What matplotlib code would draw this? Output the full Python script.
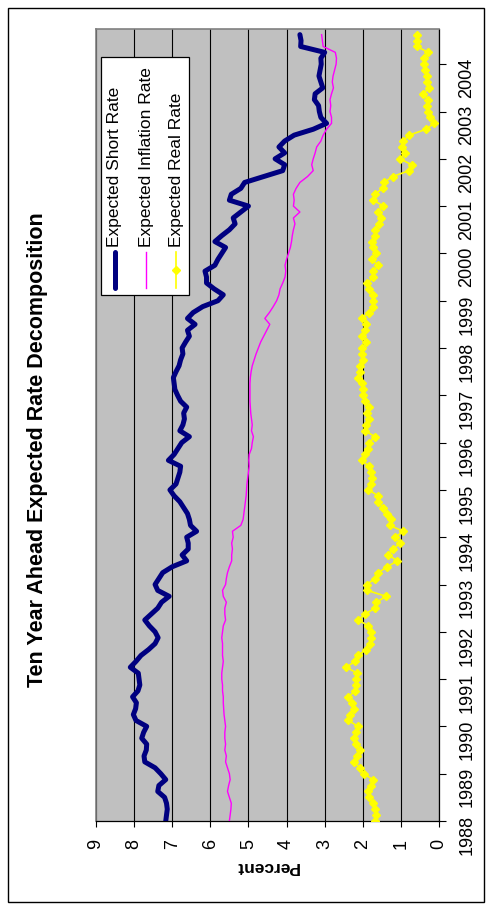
import numpy as np
import matplotlib
matplotlib.use("Agg")
import matplotlib.pyplot as plt
from matplotlib.lines import Line2D
from matplotlib.patches import Rectangle

plt.rcParams['font.family'] = ['Liberation Sans', 'DejaVu Sans']

# figure size in pixels, used to place things by pixel
W, H = 491, 909

START_YEAR = 1988
OBS_PER_YEAR = 8

year_ticks = list(range(1988, 2005))
percent_ticks = list(range(0, 10))

series_names = ["Expected Short Rate", "Expected Inflation Rate", "Expected Real Rate"]

short_rate = [
    7.17, 7.15, 7.13, 7.15, 7.20, 7.38, 7.35, 7.17,
    7.30, 7.45, 7.72, 7.74, 7.68, 7.67, 7.80, 7.75,
    7.67, 7.95, 8.02, 7.96, 7.94, 8.04, 7.90, 7.85,
    7.87, 7.89, 8.10, 7.95, 7.82, 7.62, 7.45, 7.37,
    7.45, 7.60, 7.72, 7.55, 7.38, 7.28, 7.08, 7.38,
    7.45, 7.35, 7.25, 7.00, 6.62, 6.74, 6.58, 6.58,
    6.62, 6.36, 6.52, 6.55, 6.60, 6.70, 6.80, 6.95,
    7.06, 6.90, 6.85, 6.80, 6.78, 7.10, 6.95, 6.85,
    6.75, 6.55, 6.80, 6.72, 6.68, 6.70, 6.62, 6.78,
    6.86, 6.93, 6.95, 6.97, 6.90, 6.82, 6.78, 6.72,
    6.74, 6.65, 6.55, 6.60, 6.40, 6.60, 6.45, 6.20,
    5.80, 5.66, 5.90, 6.10, 6.10, 6.14, 5.88, 5.80,
    5.70, 5.60, 5.88, 5.70, 5.50, 5.35, 5.40, 5.20,
    5.00, 5.50, 5.45, 5.20, 5.10, 4.60, 4.10, 4.05,
    4.30, 4.05, 4.20, 4.05, 3.80, 3.30, 2.95, 3.10,
    3.14, 3.16, 3.27, 3.25, 3.05, 3.10, 3.15, 3.12,
    3.09, 3.10, 3.00, 3.63, 3.62, 3.65,
]

inflation_rate = [
    5.50, 5.48, 5.46, 5.45, 5.50, 5.55, 5.52, 5.48,
    5.50, 5.55, 5.60, 5.58, 5.62, 5.60, 5.62, 5.62,
    5.60, 5.62, 5.64, 5.65, 5.66, 5.66, 5.68, 5.68,
    5.70, 5.70, 5.68, 5.66, 5.68, 5.68, 5.68, 5.70,
    5.68, 5.66, 5.60, 5.62, 5.62, 5.58, 5.66, 5.68,
    5.60, 5.58, 5.55, 5.50, 5.44, 5.44, 5.42, 5.44,
    5.40, 5.42, 5.20, 5.14, 5.12, 5.10, 5.08, 5.06,
    5.05, 5.04, 5.02, 5.00, 4.98, 4.99, 4.98, 4.92,
    4.90, 4.87, 4.92, 4.90, 4.92, 4.94, 4.95, 4.96,
    4.96, 4.96, 4.96, 4.95, 4.93, 4.90, 4.85, 4.80,
    4.74, 4.68, 4.60, 4.52, 4.44, 4.57, 4.45, 4.35,
    4.26, 4.20, 4.17, 4.10, 4.04, 4.02, 4.04, 4.00,
    3.95, 3.90, 3.87, 3.85, 3.82, 3.78, 3.82, 3.65,
    3.82, 3.80, 3.82, 3.75, 3.65, 3.45, 3.30, 3.34,
    3.30, 3.25, 3.21, 3.10, 3.04, 2.95, 2.82, 2.82,
    2.86, 2.84, 2.86, 2.82, 2.77, 2.80, 2.78, 2.74,
    2.70, 2.69, 2.72, 3.04, 3.06, 3.08,
]

real_rate = [
    1.68, 1.65, 1.68, 1.72, 1.83, 1.85, 1.79, 1.74,
    1.97, 2.07, 2.23, 2.14, 2.07, 2.18, 2.23, 2.18,
    2.12, 2.38, 2.34, 2.23, 2.29, 2.38, 2.20, 2.18,
    2.18, 2.14, 2.44, 2.20, 2.12, 1.92, 1.81, 1.79,
    1.79, 1.85, 2.12, 1.94, 1.68, 1.64, 1.39, 1.88,
    1.90, 1.68, 1.59, 1.36, 1.09, 1.33, 1.20, 1.02,
    1.15, 0.94, 1.29, 1.27, 1.36, 1.48, 1.59, 1.59,
    1.85, 1.79, 1.77, 1.79, 1.83, 2.03, 1.94, 1.85,
    1.83, 1.68, 1.94, 1.92, 1.83, 1.88, 1.83, 1.94,
    2.00, 2.00, 2.03, 2.12, 2.07, 2.07, 2.00, 2.03,
    2.03, 1.91, 2.03, 1.94, 1.91, 2.03, 1.83, 1.72,
    1.72, 1.72, 1.83, 1.88, 1.72, 1.72, 1.59, 1.77,
    1.64, 1.74, 1.77, 1.68, 1.68, 1.57, 1.53, 1.59,
    1.46, 1.72, 1.68, 1.48, 1.44, 1.22, 0.78, 0.72,
    1.02, 0.89, 0.98, 0.95, 0.78, 0.34, 0.13, 0.24,
    0.28, 0.32, 0.28, 0.41, 0.26, 0.31, 0.32, 0.36,
    0.39, 0.39, 0.28, 0.59, 0.57, 0.57,
]

NAVY = '#000080'
MAGENTA = '#FF00FF'
YELLOW = '#FFFF00'


def fx(px):
    return px / W


def fy(py):
    return 1 - py / H


def draw_chart(fig):
    """
    chart drawn standing up: percent runs along the bottom, time runs upward
    """
    ax = fig.add_axes([fx(96), fy(821), (439 - 96) / W, (821 - 29) / H])
    ax.set_facecolor('#C0C0C0')

    t = START_YEAR + np.arange(len(real_rate)) / OBS_PER_YEAR

    ax.plot(short_rate, t, color=NAVY, lw=3.6, solid_joinstyle='round',
            solid_capstyle='round', zorder=4)
    ax.plot(inflation_rate, t, color=MAGENTA, lw=1.0, zorder=3)
    ax.plot(real_rate, t, color=YELLOW, lw=1.2, marker='D', ms=4.2,
            mec=YELLOW, mfc=YELLOW, zorder=3)

    ax.set_xlim(9, 0)
    ax.set_ylim(START_YEAR, START_YEAR + (821 - 29) / 47.3)

    ax.set_xticks(percent_ticks)
    ax.set_xticklabels([str(v) for v in percent_ticks])
    ax.yaxis.tick_right()
    ax.set_yticks(year_ticks)
    ax.set_yticklabels([str(y) for y in year_ticks])

    ax.tick_params(axis='x', direction='out', length=4, width=0.8, pad=9,
                   labelsize=13, labelrotation=90, colors='black')
    ax.tick_params(axis='y', direction='out', length=5, width=0.8, pad=9,
                   labelsize=13, labelrotation=90, colors='black')

    ax.grid(axis='x', color='black', lw=0.8)
    ax.grid(axis='y', visible=False)

    for side in ['left', 'top']:
        ax.spines[side].set_color('#808080')
        ax.spines[side].set_linewidth(1.2)
    for side in ['bottom', 'right']:
        ax.spines[side].set_color('black')
        ax.spines[side].set_linewidth(0.9)
    return ax


def draw_legend(fig):
    """
    legend box with vertical samples and text
    """
    box = Rectangle((fx(101), fy(295)), (189 - 101) / W, (295 - 57) / H,
                    transform=fig.transFigure, facecolor='white',
                    edgecolor='black', lw=0.9, zorder=5)
    fig.add_artist(box)

    cols = [115, 146, 176]
    styles = [
        dict(color=NAVY, lw=3.6, solid_capstyle='round'),
        dict(color=MAGENTA, lw=1.0),
        dict(color=YELLOW, lw=1.2),
    ]
    for x, name, st in zip(cols, series_names, styles):
        line = Line2D([fx(x), fx(x)], [fy(288), fy(252)],
                      transform=fig.transFigure, zorder=6, **st)
        fig.add_artist(line)
        fig.text(fx(x), fy(247), name, rotation=90, rotation_mode='anchor',
                 ha='left', va='center', fontsize=12.5, zorder=6)
    mk = Line2D([fx(cols[2])], [fy(270)], marker='D', ms=4.2, color=YELLOW,
                transform=fig.transFigure, zorder=7)
    fig.add_artist(mk)


def main():
    fig = plt.figure(figsize=(W / 100, H / 100), dpi=100)
    fig.patch.set_facecolor('white')

    draw_chart(fig)
    draw_legend(fig)

    # title and value-axis label
    fig.text(fx(38), fy(450), "Ten Year Ahead Expected Rate Decomposition",
             rotation=90, ha='center', va='center', fontsize=15.5,
             fontweight='bold')
    fig.text(fx(267), fy(867), "Percent", rotation=180, ha='center',
             va='center', fontsize=12.5, fontweight='bold')

    # outer frame
    frame = Rectangle((fx(8), fy(902)), (484 - 8) / W, (902 - 8) / H,
                      transform=fig.transFigure, fill=False,
                      edgecolor='black', lw=1.0)
    fig.add_artist(frame)

    fig.savefig("out.png", dpi=100)
    plt.close(fig)


if __name__ == "__main__":
    main()
